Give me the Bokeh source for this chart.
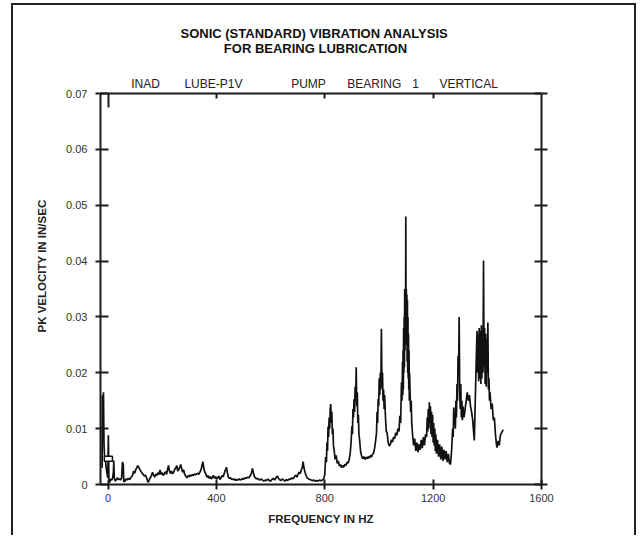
from bokeh.plotting import figure
from bokeh.models import Range1d, LinearAxis, FixedTicker, Title
from bokeh.embed import file_html
from bokeh.resources import INLINE

# ---------------- data ----------------
X_TICKS = [0, 400, 800, 1200, 1600]
X_TICK_LABELS = ["0", "400", "800", "1200", "1600"]
Y_TICKS = [0, 0.01, 0.02, 0.03, 0.04, 0.05, 0.06, 0.07]
Y_TICK_LABELS = ["0", "0.01", "0.02", "0.03", "0.04", "0.05", "0.06", "0.07"]
TOP_TICK = [0]
TOP_MINOR_TICKS = [400, 800, 1200]

TITLE_1 = "SONIC (STANDARD) VIBRATION ANALYSIS"
TITLE_2 = "FOR BEARING LUBRICATION"
HEADER_WORDS = ["INAD", "LUBE-P1V", "PUMP", "BEARING", "1", "VERTICAL"]
HEADER_HZ = [138, 389, 740, 983, 1135, 1331]
X_LABEL = "FREQUENCY IN HZ"
Y_LABEL = "PK VELOCITY IN IN/SEC"

MARKER_HZ = [1]
MARKER_VEL = [0.0046]

FREQ_LOW = [-22, -21, -19, -17, -15, -13, -10, -7, -4, -1, 1, 3, 5, 8, 11, 14, 17, 20, 21, 23,
            26, 30, 34, 38, 42, 46, 50, 53, 56, 58, 62, 66, 70, 75, 80, 85, 90, 94, 98, 102,
            106, 110, 114, 118, 122, 126, 130, 134, 138, 142, 146, 149, 152, 156, 160, 164, 168, 172, 176, 180,
            184, 188, 192, 196, 200, 204, 208, 212, 216, 220, 223, 226, 230, 234, 238, 242, 246, 250, 254, 257,
            261, 265, 268, 271, 275, 279, 283, 287, 291, 295, 299, 303, 307, 311, 315, 319, 323, 327, 331, 335,
            339, 343, 347, 350, 353, 357, 361, 365, 369, 373, 377, 381, 385, 389, 393, 397, 401, 405, 409, 413,
            417, 421, 425, 429, 433, 437, 440, 444, 448, 452, 456, 460, 464, 468, 472, 476, 480, 484, 488, 492,
            496, 500, 505, 510, 515, 520, 525, 529, 533, 536, 540, 544, 548, 552, 556, 560, 565, 570, 575, 580,
            585, 590, 595, 600, 605, 610, 615, 620, 625, 629, 633, 638, 643, 648, 653, 658, 663, 668, 673, 678,
            683, 688, 693, 697, 701, 705, 709, 713, 717, 720, 723, 727, 731, 735, 740, 745, 750, 755, 760, 765,
            770, 775, 780, 785, 790, 793]
VEL_LOW = [0.0030, 0.0160, 0.0100, 0.0165, 0.0070, 0.0050, 0.0045, 0.0030, 0.0020, 0.0012, 0.0088, 0.0010, 0.0004, 0.0006, 0.0010, 0.0008, 0.0012, 0.0025, 0.0043, 0.0012,
           0.0006, 0.0008, 0.0012, 0.0009, 0.0010, 0.0008, 0.0012, 0.0040, 0.0036, 0.0005, 0.0006, 0.0010, 0.0008, 0.0011, 0.0009, 0.0013, 0.0016, 0.0024, 0.0020, 0.0026,
           0.0030, 0.0034, 0.0030, 0.0026, 0.0023, 0.0020, 0.0018, 0.0015, 0.0017, 0.0012, 0.0006, 0.0004, 0.0009, 0.0012, 0.0016, 0.0022, 0.0017, 0.0013, 0.0019, 0.0016,
           0.0021, 0.0018, 0.0026, 0.0018, 0.0021, 0.0016, 0.0020, 0.0023, 0.0018, 0.0028, 0.0034, 0.0025, 0.0020, 0.0024, 0.0019, 0.0022, 0.0027, 0.0030, 0.0034, 0.0024,
           0.0027, 0.0031, 0.0036, 0.0030, 0.0022, 0.0026, 0.0018, 0.0015, 0.0012, 0.0016, 0.0014, 0.0017, 0.0015, 0.0018, 0.0016, 0.0019, 0.0017, 0.0019, 0.0020, 0.0018,
           0.0022, 0.0026, 0.0035, 0.0041, 0.0030, 0.0022, 0.0019, 0.0013, 0.0016, 0.0011, 0.0014, 0.0010, 0.0013, 0.0016, 0.0011, 0.0014, 0.0010, 0.0012, 0.0015, 0.0009,
           0.0012, 0.0016, 0.0014, 0.0020, 0.0026, 0.0031, 0.0022, 0.0013, 0.0011, 0.0012, 0.0009, 0.0010, 0.0008, 0.0010, 0.0007, 0.0009, 0.0008, 0.0010, 0.0008, 0.0009,
           0.0011, 0.0009, 0.0012, 0.0011, 0.0013, 0.0012, 0.0016, 0.0020, 0.0029, 0.0022, 0.0014, 0.0012, 0.0010, 0.0011, 0.0009, 0.0008, 0.0010, 0.0008, 0.0006, 0.0008,
           0.0007, 0.0010, 0.0007, 0.0006, 0.0009, 0.0011, 0.0008, 0.0012, 0.0015, 0.0011, 0.0009, 0.0007, 0.0010, 0.0008, 0.0006, 0.0009, 0.0007, 0.0010, 0.0009, 0.0012,
           0.0010, 0.0014, 0.0017, 0.0013, 0.0018, 0.0022, 0.0019, 0.0026, 0.0031, 0.0041, 0.0030, 0.0022, 0.0016, 0.0012, 0.0010, 0.0009, 0.0008, 0.0007, 0.0008, 0.0006,
           0.0007, 0.0006, 0.0008, 0.0007, 0.0007, 0.0009]

FREQ_MID = [796, 800, 803, 806, 808, 810, 812, 814, 816, 818, 820, 822, 824, 826, 828, 830, 832, 835, 838, 842,
            846, 850, 854, 858, 862, 866, 870, 874, 878, 882, 886, 890, 894, 897, 900, 902, 904, 906, 908, 910,
            912, 914, 916, 918, 920, 922, 924, 926, 928, 932, 936, 940, 944, 948, 952, 956, 960, 964, 968, 972,
            976, 980, 984, 988, 991, 993, 995, 997, 999, 1001, 1003, 1005, 1007, 1009, 1011, 1013, 1015, 1017, 1019, 1021,
            1024, 1027, 1030, 1034, 1038, 1042, 1046, 1050, 1054, 1058, 1062, 1066, 1070, 1074, 1077, 1080, 1083, 1085,
            1087, 1088, 1089, 1090, 1091, 1092, 1093, 1094, 1095, 1096, 1097, 1098, 1099, 1100, 1101, 1102, 1103, 1104,
            1105, 1106, 1107, 1108, 1109, 1110, 1111, 1112, 1113, 1115, 1117, 1119, 1121]
VEL_MID = [0.0010, 0.0018, 0.0049, 0.0040, 0.0075, 0.0060, 0.0104, 0.0085, 0.0120, 0.0100, 0.0135, 0.0144, 0.0110, 0.0130, 0.0090, 0.0100, 0.0070, 0.0060, 0.0045, 0.0052,
           0.0038, 0.0042, 0.0033, 0.0036, 0.0030, 0.0034, 0.0031, 0.0036, 0.0034, 0.0040, 0.0038, 0.0045, 0.0057, 0.0075, 0.0104, 0.0090, 0.0135, 0.0120, 0.0153, 0.0130,
           0.0175, 0.0150, 0.0210, 0.0140, 0.0165, 0.0110, 0.0125, 0.0090, 0.0082, 0.0060, 0.0051, 0.0046, 0.0050, 0.0045, 0.0049, 0.0046, 0.0050, 0.0047, 0.0052, 0.0049,
           0.0054, 0.0056, 0.0065, 0.0080, 0.0093, 0.0130, 0.0110, 0.0153, 0.0140, 0.0190, 0.0160, 0.0200, 0.0170, 0.0279, 0.0175, 0.0200, 0.0150, 0.0170, 0.0135, 0.0160,
           0.0120, 0.0095, 0.0093, 0.0075, 0.0069, 0.0072, 0.0080, 0.0076, 0.0085, 0.0082, 0.0093, 0.0088, 0.0100, 0.0095, 0.0123, 0.0110, 0.0183, 0.0150,
           0.0220, 0.0160, 0.0240, 0.0170, 0.0280, 0.0200, 0.0300, 0.0210, 0.0350, 0.0240, 0.0330, 0.0260, 0.0480, 0.0280, 0.0350, 0.0250, 0.0340, 0.0220,
           0.0330, 0.0200, 0.0300, 0.0190, 0.0270, 0.0170, 0.0240, 0.0150, 0.0200, 0.0160, 0.0130, 0.0150, 0.0110]

FREQ_HIGH = [1124, 1128, 1132, 1136, 1140, 1144, 1148, 1152, 1156, 1160, 1164, 1168, 1172, 1176, 1178, 1180, 1182, 1184, 1186, 1188,
             1190, 1192, 1194, 1196, 1198, 1200, 1202, 1204, 1206, 1208, 1210, 1212, 1216, 1220, 1224, 1228, 1232, 1236, 1240, 1244,
             1248, 1252, 1256, 1260, 1264, 1268, 1272, 1274, 1276, 1278, 1280, 1282, 1284, 1286, 1288, 1290, 1292, 1294, 1296, 1298,
             1300, 1302, 1304, 1306, 1308, 1310, 1314, 1318, 1322, 1326, 1330, 1334, 1338, 1342, 1346, 1350, 1352, 1354, 1356, 1358,
             1360, 1362, 1364, 1366, 1368, 1370, 1372, 1374, 1376, 1378, 1380, 1382, 1384, 1386, 1388, 1390, 1392, 1394, 1396, 1398,
             1400, 1402, 1404, 1406, 1408, 1410, 1414, 1418, 1422, 1426, 1430, 1434, 1436, 1440, 1444, 1448, 1452, 1456, 1459]
VEL_HIGH = [0.0090, 0.0070, 0.0082, 0.0060, 0.0075, 0.0058, 0.0072, 0.0062, 0.0080, 0.0065, 0.0085, 0.0070, 0.0090, 0.0085, 0.0120, 0.0095, 0.0135, 0.0100, 0.0147, 0.0110,
            0.0140, 0.0090, 0.0130, 0.0085, 0.0125, 0.0075, 0.0110, 0.0070, 0.0100, 0.0060, 0.0090, 0.0055, 0.0080, 0.0050, 0.0072, 0.0045, 0.0068, 0.0042, 0.0062, 0.0045,
            0.0060, 0.0040, 0.0055, 0.0038, 0.0036, 0.0060, 0.0100, 0.0085, 0.0138, 0.0110, 0.0125, 0.0100, 0.0150, 0.0120, 0.0180, 0.0150, 0.0230, 0.0200, 0.0300, 0.0170,
            0.0135, 0.0180, 0.0120, 0.0150, 0.0115, 0.0140, 0.0120, 0.0135, 0.0150, 0.0165, 0.0150, 0.0160, 0.0140, 0.0130, 0.0115, 0.0090, 0.0079, 0.0120, 0.0160, 0.0200,
            0.0240, 0.0275, 0.0200, 0.0270, 0.0185, 0.0280, 0.0190, 0.0275, 0.0180, 0.0285, 0.0190, 0.0270, 0.0200, 0.0401, 0.0210, 0.0280, 0.0180, 0.0270, 0.0175, 0.0260,
            0.0200, 0.0290, 0.0170, 0.0190, 0.0150, 0.0165, 0.0135, 0.0145, 0.0115, 0.0120, 0.0090, 0.0070, 0.0066, 0.0078, 0.0070, 0.0088, 0.0092, 0.0096, 0.0098]

FREQ_HZ = FREQ_LOW + FREQ_MID + FREQ_HIGH
PK_VEL = VEL_LOW + VEL_MID + VEL_HIGH
assert len(FREQ_LOW) == len(VEL_LOW), (len(FREQ_LOW), len(VEL_LOW))
assert len(FREQ_MID) == len(VEL_MID), (len(FREQ_MID), len(VEL_MID))
assert len(FREQ_HIGH) == len(VEL_HIGH), (len(FREQ_HIGH), len(VEL_HIGH))

# ---------------- styling ----------------
INK = "#1a1a1a"
FONT = "Liberation Sans"

p = figure(
    frame_width=441, frame_height=391,
    x_range=Range1d(-28, 1600), y_range=Range1d(0, 0.07),
    x_axis_location=None, y_axis_location=None,
    min_border_left=87, min_border_right=93, min_border_top=88, min_border_bottom=51,
    output_backend="svg", toolbar_location=None,
)
p.grid.visible = False
p.outline_line_color = None
p.background_fill_color = "white"
p.border_fill_color = "white"
p.styles = {
    "margin-top": "3px",
    "margin-left": "11px",
    "border-left": "2px solid #222",
    "border-top": "2px solid #222",
    "border-right": "2px solid #222",
}


def style_axis(ax, tin, tout):
    ax.axis_line_color = INK
    ax.axis_line_width = 2
    ax.major_tick_line_color = INK
    ax.major_tick_line_width = 2
    ax.major_tick_in = tin
    ax.major_tick_out = tout
    ax.minor_tick_line_color = None
    ax.major_label_text_font = FONT
    ax.major_label_text_font_size = "11px"
    ax.major_label_text_color = "#333333"


xb = LinearAxis(ticker=FixedTicker(ticks=X_TICKS),
                major_label_overrides=dict(zip(X_TICKS, X_TICK_LABELS)))
style_axis(xb, 5, 5)
xb.major_label_standoff = 4
xb.axis_label = X_LABEL
xb.axis_label_text_font = FONT
xb.axis_label_text_font_size = "11.5px"
xb.axis_label_text_font_style = "bold"
xb.axis_label_text_color = "#222222"
xb.axis_label_standoff = 8
p.add_layout(xb, "below")

yl = LinearAxis(ticker=FixedTicker(ticks=Y_TICKS),
                major_label_overrides=dict(zip(Y_TICKS, Y_TICK_LABELS)))
style_axis(yl, 8, 5)
yl.major_label_standoff = 8
p.add_layout(yl, "left")

yr = LinearAxis(ticker=FixedTicker(ticks=Y_TICKS))
style_axis(yr, 7, 6)
yr.major_label_text_color = None
p.add_layout(yr, "right")

# top frame line with its ticks (closest to the frame)
xt = LinearAxis(ticker=FixedTicker(ticks=TOP_TICK, minor_ticks=TOP_MINOR_TICKS))
style_axis(xt, 14, 0)
xt.minor_tick_line_color = INK
xt.minor_tick_line_width = 2
xt.minor_tick_in = 5
xt.minor_tick_out = 0
xt.major_label_text_color = None
xt.major_label_text_font_size = "0px"
xt.major_label_standoff = 0
p.add_layout(xt, "above")

# header words row
xh = LinearAxis(ticker=FixedTicker(ticks=HEADER_HZ),
                major_label_overrides=dict(zip(HEADER_HZ, HEADER_WORDS)))
xh.axis_line_color = None
xh.major_tick_line_color = None
xh.minor_tick_line_color = None
xh.major_tick_in = 0
xh.major_tick_out = 0
xh.major_label_standoff = 3
xh.major_label_text_font = FONT
xh.major_label_text_font_size = "12px"
xh.major_label_text_color = "#222222"
p.add_layout(xh, "above")

# two-line title; second line indented with no-break spaces so it sits centred
INDENT = "\u00a0" * 12
p.add_layout(Title(text=TITLE_1 + "\n" + INDENT + TITLE_2, align="left", offset=80, standoff=36,
                   text_line_height=1.0,
                   text_font=FONT, text_font_size="13px", text_font_style="bold",
                   text_color="#111111"), "above")

p.add_layout(Title(text=Y_LABEL, align="left", offset=152, standoff=31,
                   text_font=FONT, text_font_size="11.5px", text_font_style="bold",
                   text_color="#222222"), "left")

# spectrum
p.line(FREQ_HZ, PK_VEL, line_color="#111111", line_width=1.7)
p.rect(x=MARKER_HZ, y=MARKER_VEL, width=30, height=0.0009,
       fill_color="white", line_color="#111111", line_width=1.5)

open("out.html", "w").write(file_html(p, INLINE))
